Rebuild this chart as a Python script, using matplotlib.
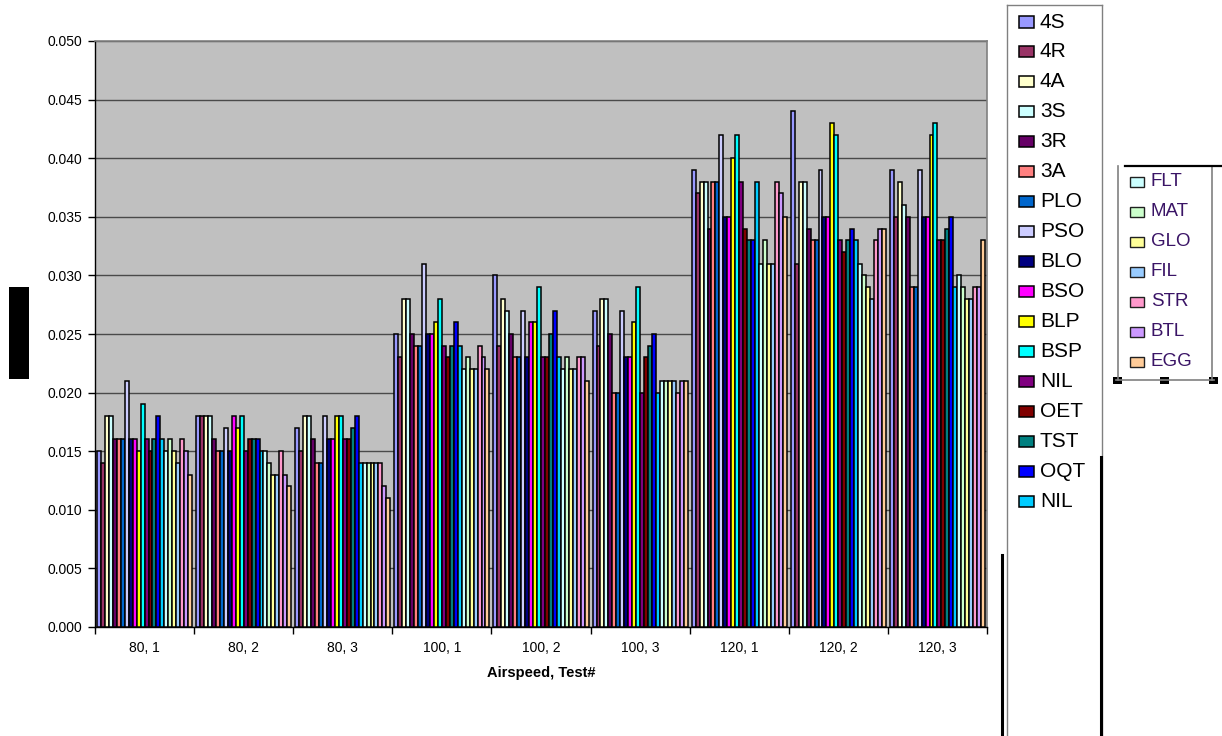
import matplotlib
matplotlib.use('Agg')
import matplotlib.pyplot as plt
from matplotlib.patches import Rectangle
from matplotlib.lines import Line2D
import numpy as np

plt.rcParams['font.family'] = ['Liberation Sans', 'DejaVu Sans']

W, H = 1222, 736

# ---------------- data ----------------
groups = ['80, 1', '80, 2', '80, 3', '100, 1', '100, 2', '100, 3', '120, 1', '120, 2', '120, 3']

series_main = ['4S', '4R', '4A', '3S', '3R', '3A', 'PLO', 'PSO', 'BLO', 'BSO',
               'BLP', 'BSP', 'NIL', 'OET', 'TST', 'OQT', 'NIL']
series_extra = ['FLT', 'MAT', 'GLO', 'FIL', 'STR', 'BTL', 'EGG']

colors_main = ['#9999FF', '#993366', '#FFFFCC', '#CCFFFF', '#660066', '#FF8080',
               '#0066CC', '#CCCCFF', '#000080', '#FF00FF', '#FFFF00', '#00FFFF',
               '#800080', '#800000', '#008080', '#0000FF', '#00CCFF']
colors_extra = ['#CCFFFF', '#CCFFCC', '#FFFF99', '#99CCFF', '#FF99CC', '#CC99FF', '#FFCC99']

# values per group, in series order (24 series)
v_80_1  = [0.015, 0.014, 0.018, 0.018, 0.016, 0.016, 0.016, 0.021, 0.016, 0.016, 0.015, 0.019,
           0.016, 0.015, 0.016, 0.018, 0.016, 0.015, 0.016, 0.015, 0.014, 0.016, 0.015, 0.013]
v_80_2  = [0.018, 0.018, 0.018, 0.018, 0.016, 0.015, 0.015, 0.017, 0.015, 0.018, 0.017, 0.018,
           0.015, 0.016, 0.016, 0.016, 0.015, 0.015, 0.014, 0.013, 0.013, 0.015, 0.013, 0.012]
v_80_3  = [0.017, 0.015, 0.018, 0.018, 0.016, 0.014, 0.014, 0.018, 0.016, 0.016, 0.018, 0.018,
           0.016, 0.016, 0.017, 0.018, 0.014, 0.014, 0.014, 0.014, 0.014, 0.014, 0.012, 0.011]
v_100_1 = [0.025, 0.023, 0.028, 0.028, 0.025, 0.024, 0.024, 0.031, 0.025, 0.025, 0.026, 0.028,
           0.024, 0.023, 0.024, 0.026, 0.024, 0.022, 0.023, 0.022, 0.022, 0.024, 0.023, 0.022]
v_100_2 = [0.030, 0.024, 0.028, 0.027, 0.025, 0.023, 0.023, 0.027, 0.023, 0.026, 0.026, 0.029,
           0.023, 0.023, 0.025, 0.027, 0.023, 0.022, 0.023, 0.022, 0.022, 0.023, 0.023, 0.021]
v_100_3 = [0.027, 0.024, 0.028, 0.028, 0.025, 0.020, 0.020, 0.027, 0.023, 0.023, 0.026, 0.029,
           0.020, 0.023, 0.024, 0.025, 0.020, 0.021, 0.021, 0.021, 0.021, 0.020, 0.021, 0.021]
v_120_1 = [0.039, 0.037, 0.038, 0.038, 0.034, 0.038, 0.038, 0.042, 0.035, 0.035, 0.040, 0.042,
           0.038, 0.034, 0.033, 0.033, 0.038, 0.031, 0.033, 0.031, 0.031, 0.038, 0.037, 0.035]
v_120_2 = [0.044, 0.031, 0.038, 0.038, 0.034, 0.033, 0.033, 0.039, 0.035, 0.035, 0.043, 0.042,
           0.033, 0.032, 0.033, 0.034, 0.033, 0.031, 0.030, 0.029, 0.028, 0.033, 0.034, 0.034]
v_120_3 = [0.039, 0.035, 0.038, 0.036, 0.035, 0.029, 0.029, 0.039, 0.035, 0.035, 0.042, 0.043,
           0.033, 0.033, 0.034, 0.035, 0.029, 0.030, 0.029, 0.028, 0.028, 0.029, 0.029, 0.033]

y_ticks = [0.000, 0.005, 0.010, 0.015, 0.020, 0.025, 0.030, 0.035, 0.040, 0.045, 0.050]
x_label = 'Airspeed, Test#'

# ---------------- figure ----------------
table = np.array([v_80_1, v_80_2, v_80_3, v_100_1, v_100_2, v_100_3,
                  v_120_1, v_120_2, v_120_3])          # groups x series
all_names = series_main + series_extra
all_colors = colors_main + colors_extra
n_series = len(all_names)

fig = plt.figure(figsize=(W / 100, H / 100), dpi=100)
fig.patch.set_facecolor('white')

def fx(x):
    return x / W

def fy(y):
    return 1 - y / H

ax_l, ax_r, ax_t, ax_b = 95, 987, 41, 627
ax = fig.add_axes([fx(ax_l), fy(ax_b), (ax_r - ax_l) / W, (ax_b - ax_t) / H])
ax.set_facecolor('#C0C0C0')

xg = np.arange(len(groups))
bw = 0.96 / n_series
for i in range(n_series):
    off = -0.48 + bw / 2 + i * bw
    ax.bar(xg + off, table[:, i], width=bw, color=all_colors[i],
           edgecolor='black', linewidth=1.1, zorder=3)

ax.set_xlim(-0.5, len(groups) - 0.5)
ax.set_ylim(0, 0.050)
ax.set_yticks(y_ticks)
ax.set_yticklabels(['%.3f' % t for t in y_ticks], fontsize=10)
ax.yaxis.grid(True, color='#4a4a4a', linewidth=1.0, zorder=1)
ax.set_axisbelow(True)

ax.set_xticks(np.arange(len(groups) + 1) - 0.5)
ax.set_xticklabels([''] * (len(groups) + 1))
ax.set_xticks(xg, minor=True)
ax.set_xticklabels(groups, minor=True, fontsize=10)
ax.tick_params(axis='x', which='major', length=5, width=1, direction='out', color='black')
ax.tick_params(axis='x', which='minor', length=0, pad=10)
ax.tick_params(axis='y', length=5, width=1, direction='out', pad=4, color='black')

for s in ['left', 'bottom']:
    ax.spines[s].set_color('black')
    ax.spines[s].set_linewidth(1)
for s in ['top', 'right']:
    ax.spines[s].set_color('#808080')
    ax.spines[s].set_linewidth(1.2)

ax.set_xlabel(x_label, fontsize=10.5, fontweight='bold', labelpad=8)

# redacted y-axis label block
fig.add_artist(Rectangle((fx(9), fy(379)), 20 / W, 92 / H, transform=fig.transFigure,
                         facecolor='black', edgecolor='none'))

# ---------------- legend 1 ----------------
def line(x0, y0, x1, y1, color, lw):
    fig.add_artist(Line2D([fx(x0), fx(x1)], [fy(y0), fy(y1)], transform=fig.transFigure,
                          color=color, linewidth=lw))

line(1007, 5, 1102, 5, '#808080', 1)
line(1007, 5, 1007, 736, '#808080', 1)
line(1102, 5, 1102, 736, '#808080', 1)
line(1001.5, 555, 1001.5, 736, 'black', 2.2)
line(1100.5, 457, 1100.5, 736, 'black', 2.2)

y0, step = 22, 29.98
for i, (name, col) in enumerate(zip(series_main, colors_main)):
    yc = y0 + i * step
    fig.add_artist(Rectangle((fx(1019), fy(yc + 5.5)), 15.5 / W, 11 / H,
                             transform=fig.transFigure, facecolor=col,
                             edgecolor='black', linewidth=1.1))
    fig.text(fx(1040), fy(yc), name, fontsize=15, va='center', ha='left', color='black')

# ---------------- legend 2 ----------------
line(1118, 166, 1118, 380, '#808080', 1.2)
line(1212, 166, 1212, 380, '#808080', 1.2)
line(1125, 166, 1222, 166, 'black', 1.6)
line(1116, 380, 1214, 380, '#808080', 1.2)
for hx in (1117, 1164, 1213):
    fig.add_artist(Rectangle((fx(hx - 4.5), fy(383.5)), 9 / W, 7 / H,
                             transform=fig.transFigure, facecolor='black', edgecolor='none'))

y0b, stepb = 182, 30
for i, (name, col) in enumerate(zip(series_extra, colors_extra)):
    yc = y0b + i * stepb
    fig.add_artist(Rectangle((fx(1130), fy(yc + 5)), 14 / W, 10 / H,
                             transform=fig.transFigure, facecolor=col,
                             edgecolor='#202020', linewidth=1.0))
    fig.text(fx(1151), fy(yc), name, fontsize=13.5, va='center', ha='left', color='#3a1466')

fig.savefig('out.png', dpi=100)
